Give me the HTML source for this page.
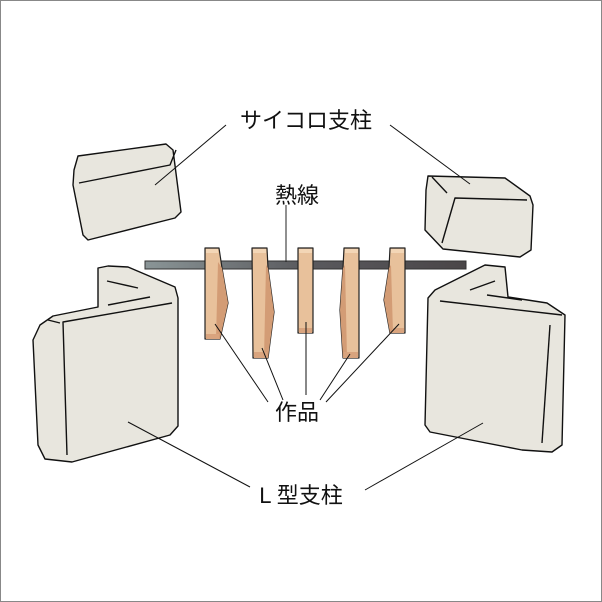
<!DOCTYPE html>
<html><head><meta charset="utf-8"><style>
html,body{margin:0;padding:0;background:#fff}
svg{display:block}
text{font-family:"Liberation Sans","Noto Sans CJK JP",sans-serif;font-size:22px;fill:#111}
</style></head><body>
<svg width="602" height="602" viewBox="0 0 602 602" xmlns="http://www.w3.org/2000/svg">
<defs>
<linearGradient id="bar" x1="0" x2="1" y1="0" y2="0">
<stop offset="0" stop-color="#8a9597"/><stop offset="0.5" stop-color="#5a5a5e"/><stop offset="1" stop-color="#4a4648"/></linearGradient>
</defs>
<rect x="0.5" y="0.5" width="601" height="601" fill="#fff" stroke="#888"/>
<g stroke="#111" stroke-width="1.4" fill="#e8e6de" stroke-linejoin="round">
<polygon points="78,156 166,144 173,150 181,212 175,218 88,240 83,235 73,185 74,170"/>
<polyline points="79,183 170,165 176,150" fill="none"/>
<polygon points="428,176 505,178 530,196 533,205 531,250 520,257 443,249 425,230 426,190"/>
<polyline points="442,243 455,198 527,200" fill="none"/>
<line x1="432" y1="177" x2="447" y2="193"/>
<polygon points="98,268 108,266 128,267 175,287 178,298 178,426 170,435 72,462 45,459 38,445 33,340 40,325 53,316 98,307"/>
<polyline points="67,455 63,322 172,303" fill="none"/>
<line x1="107" y1="281" x2="138" y2="288"/>
<line x1="48" y1="320" x2="60" y2="323"/>
<line x1="108" y1="305" x2="150" y2="297"/>
<polygon points="435,290 485,265 505,267 508,297 547,303 565,315 562,445 552,452 522,450 430,432 425,425 428,298"/>
<line x1="440" y1="301" x2="562" y2="315"/>
<line x1="550" y1="325" x2="542" y2="443"/>
<line x1="470" y1="290" x2="495" y2="281"/>
<line x1="487" y1="295" x2="522" y2="300"/>
</g>
<rect x="145" y="261" width="321" height="8" fill="url(#bar)" stroke="#333" stroke-width="1"/>
<line x1="286" y1="205" x2="286" y2="262" stroke="#222" stroke-width="1"/>
<g stroke="#222" stroke-width="1.2" stroke-linejoin="round">
<polygon points="205,248 219,248 222,268 228,303 220,339 205,339" fill="#e8c19b"/>
<polygon points="218,262 222,268 228,303 220,339 216,339" fill="#d39c75" stroke="none"/>
<polygon points="252,248 267,248 268,268 274,312 268,358 253,358" fill="#e8c19b"/>
<polygon points="266,265 268,268 274,312 268,358 264,358" fill="#d39c75" stroke="none"/>
<polygon points="298,248 313,248 313,333 298,333" fill="#e8c19b"/>
<polygon points="344,248 359,248 359,358 343,358 340,310 343,268" fill="#e8c19b"/>
<polygon points="345,265 343,268 340,310 343,358 347,358" fill="#d39c75" stroke="none"/>
<polygon points="390,248 405,248 405,333 390,333 384,300 389,268" fill="#e8c19b"/>
<polygon points="391,265 389,268 384,300 390,333 393,333" fill="#d39c75" stroke="none"/>
<rect x="206" y="334" width="13" height="5" fill="#d9a47e" stroke="none"/>
<rect x="254" y="352" width="13" height="6" fill="#d9a47e" stroke="none"/>
<rect x="299" y="328" width="13" height="5" fill="#d9a47e" stroke="none"/>
<rect x="344" y="352" width="14" height="6" fill="#d9a47e" stroke="none"/>
<rect x="392" y="328" width="12" height="5" fill="#d9a47e" stroke="none"/>
<rect x="206" y="249" width="12" height="4" fill="#f3d6b6" stroke="none"/>
<rect x="253" y="249" width="13" height="4" fill="#f3d6b6" stroke="none"/>
<rect x="299" y="249" width="13" height="4" fill="#f3d6b6" stroke="none"/>
<rect x="345" y="249" width="13" height="4" fill="#f3d6b6" stroke="none"/>
<rect x="391" y="249" width="13" height="4" fill="#f3d6b6" stroke="none"/>
</g>
<g stroke="#111" stroke-width="1" fill="none">
<line x1="226" y1="125" x2="155" y2="185"/>
<line x1="390" y1="125" x2="470" y2="184"/>
<line x1="215" y1="324" x2="268" y2="402"/>
<line x1="262" y1="348" x2="283" y2="400"/>
<line x1="306" y1="322" x2="306" y2="395"/>
<line x1="350" y1="354" x2="320" y2="400"/>
<line x1="399" y1="324" x2="326" y2="402"/>
<line x1="128" y1="422" x2="250" y2="487"/>
<line x1="483" y1="423" x2="365" y2="490"/>
</g>
<text x="306" y="128" text-anchor="middle">サイコロ支柱</text>
<text x="297" y="203" text-anchor="middle">熱線</text>
<text x="297" y="420" text-anchor="middle">作品</text>
<text x="301" y="503" text-anchor="middle">L 型支柱</text>
</svg>
</body></html>
